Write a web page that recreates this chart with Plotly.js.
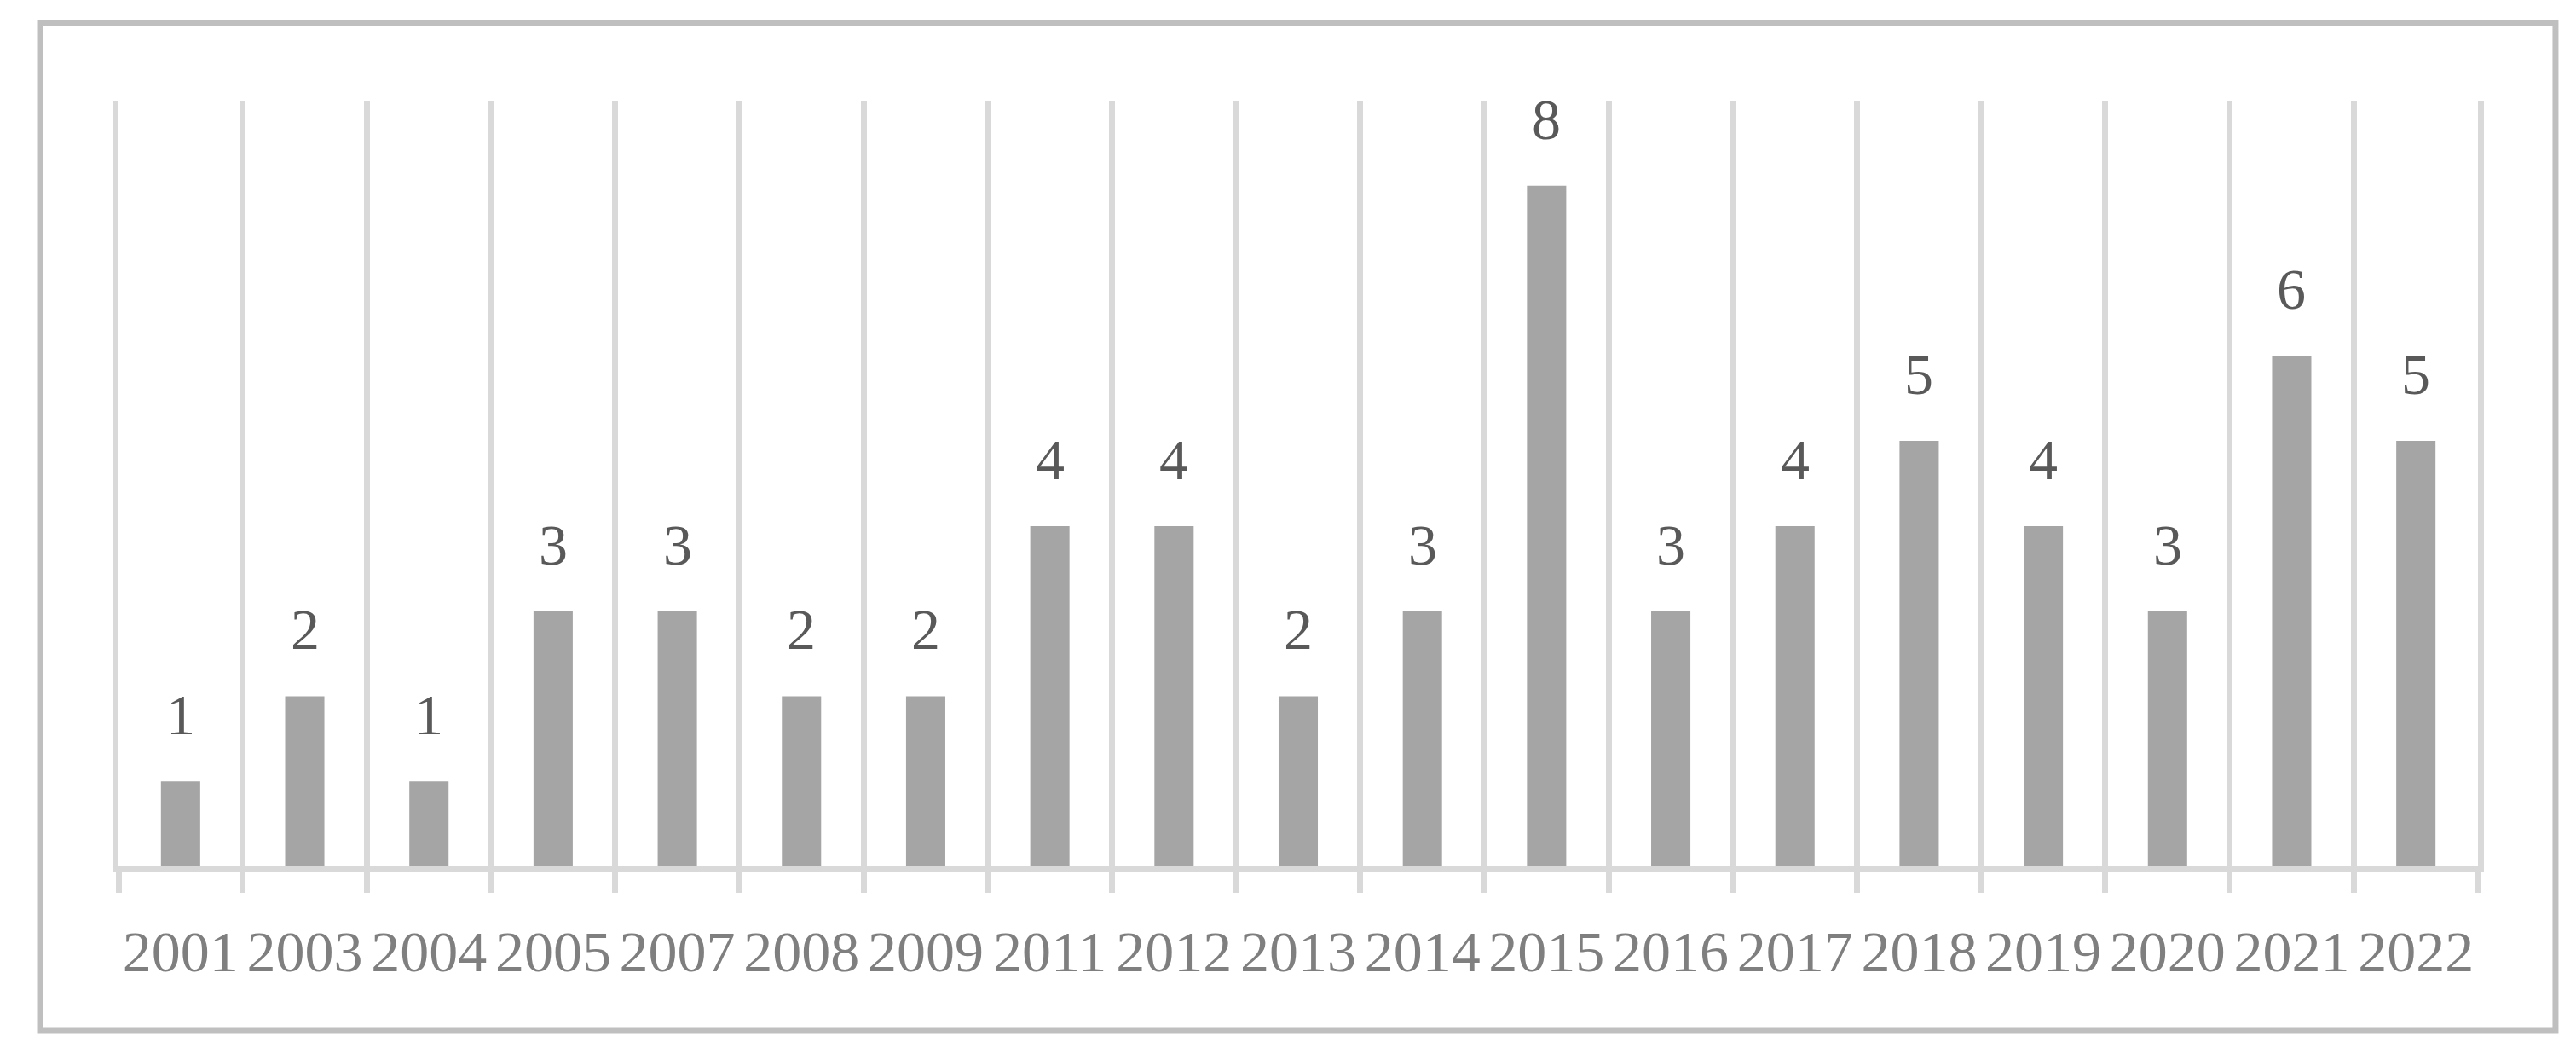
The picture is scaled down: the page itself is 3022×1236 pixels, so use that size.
<!DOCTYPE html>
<html>
<head>
<meta charset="utf-8">
<script src="https://cdn.plot.ly/plotly-3.0.1.min.js"></script>
<style>
  html, body { margin: 0; padding: 0; background: #ffffff; }
  #chart { width: 3022px; height: 1236px; }
</style>
</head>
<body>
<div id="chart"></div>
<script>
const years = ["2001","2003","2004","2005","2007","2008","2009","2011","2012","2013","2014","2015","2016","2017","2018","2019","2020","2021","2022"];
const counts = [1,2,1,3,3,2,2,4,4,2,3,8,3,4,5,4,3,6,5];

const barColor = "#a5a5a5";
const gridColor = "#d9d9d9";
const labelColor = "#595959";
const tickColor = "#7f7f7f";
const fontFamily = "Liberation Serif, DejaVu Serif, serif";

const trace = {
  type: "bar",
  x: years,
  y: counts,
  marker: { color: barColor, line: { width: 0 } },
  hoverinfo: "x+y"
};

const annotations = years.map((yr, i) => ({
  x: i,
  y: counts[i],
  xref: "x",
  yref: "y",
  text: String(counts[i]),
  showarrow: false,
  xanchor: "center",
  yanchor: "bottom",
  yshift: 38,
  font: { family: fontFamily, size: 68, color: labelColor }
}));

const layout = {
  width: 3022,
  height: 1236,
  margin: { l: 138.5, r: 114.5, t: 118, b: 219.5 },
  paper_bgcolor: "#ffffff",
  plot_bgcolor: "#ffffff",
  showlegend: false,
  bargap: 0.684,
  font: { family: fontFamily, size: 68, color: tickColor },
  xaxis: {
    type: "category",
    range: [-0.5, years.length - 0.5],
    tickson: "boundaries",
    ticks: "outside",
    ticklen: 24,
    tickwidth: 7,
    tickcolor: gridColor,
    tickangle: 0,
    ticklabelstandoff: 34,
    showgrid: true,
    gridcolor: gridColor,
    gridwidth: 7,
    showline: true,
    linecolor: gridColor,
    linewidth: 7,
    tickfont: { family: fontFamily, size: 68, color: tickColor },
    fixedrange: true
  },
  yaxis: {
    range: [0, 9],
    showgrid: false,
    zeroline: false,
    showline: true,
    mirror: true,
    linecolor: gridColor,
    linewidth: 7,
    showticklabels: false,
    ticks: "",
    fixedrange: true
  },
  annotations: annotations,
  shapes: [{
    type: "rect",
    xref: "paper", yref: "paper",
    x0: -0.03323, x1: 1.03286,
    y0: -0.21369, y1: 1.10184,
    line: { color: "#bfbfbf", width: 7 },
    fillcolor: "rgba(0,0,0,0)",
    layer: "below"
  }]
};

Plotly.newPlot("chart", [trace], layout, { staticPlot: true, displayModeBar: false });
</script>
</body>
</html>
